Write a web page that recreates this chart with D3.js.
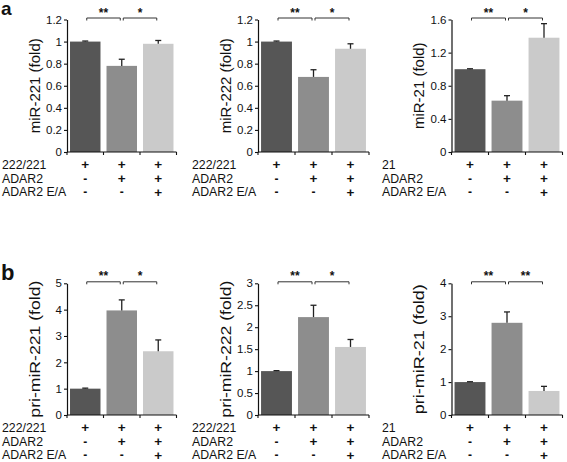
<!DOCTYPE html>
<html><head><meta charset="utf-8">
<script src="https://cdn.jsdelivr.net/npm/d3@7"></script>
<style>body{margin:0;background:#fff}svg{display:block;font-family:"Liberation Sans",Arial,sans-serif}</style>
</head><body><svg id="c" width="567" height="462"></svg>
<script>
// ---- data ----
const conditions = ["c1", "c2", "c3"];
const rowNames = ["ADAR2", "ADAR2 E/A"];
const signsRow1 = ["+", "+", "+"];
const signsRow2 = ["-", "+", "+"];
const signsRow3 = ["-", "-", "+"];

const a1Label = "miR-221 (fold)", a1Values = [1.0, 0.78, 0.98], a1Errors = [0.005, 0.06, 0.03];
const a2Label = "miR-222 (fold)", a2Values = [1.0, 0.68, 0.935], a2Errors = [0.005, 0.065, 0.045];
const a3Label = "miR-21 (fold)", a3Values = [1.0, 0.62, 1.38], a3Errors = [0.005, 0.06, 0.17];
const b1Label = "pri-miR-221 (fold)", b1Values = [1.0, 3.97, 2.42], b1Errors = [0.02, 0.4, 0.43];
const b2Label = "pri-miR-222 (fold)", b2Values = [1.0, 2.23, 1.55], b2Errors = [0.01, 0.27, 0.17];
const b3Label = "pri-miR-21 (fold)", b3Values = [1.0, 2.8, 0.73], b3Errors = [0.01, 0.33, 0.14];

const ticksA12 = [0, 0.2, 0.4, 0.6, 0.8, 1, 1.2];
const ticksA3 = [0, 0.4, 0.8, 1.2, 1.6];
const ticksB1 = [0, 1, 2, 3, 4, 5];
const ticksB2 = [0, 0.5, 1, 1.5, 2, 2.5, 3];
const ticksB3 = [0, 1, 2, 3, 4];

const firstRow221 = "222/221", firstRow21 = "21";
const starsA = ["**", "*"], starsB12 = ["**", "*"], starsB3 = ["**", "**"];

const barColors = ["#565656", "#8d8d8d", "#cacaca"];

// ---- layout ----
const svg = d3.select("#c");
const colX = [67, 258, 451.5], colW = [109.5, 111, 111], rowLabelX = [2, 192, 382];
const rowsY = [{top: 19.5, bottom: 152}, {top: 283.3, bottom: 415}];

const panels = [
  {col:0,row:0,label:a1Label,values:a1Values,errors:a1Errors,ticks:ticksA12,first:firstRow221,stars:starsA},
  {col:1,row:0,label:a2Label,values:a2Values,errors:a2Errors,ticks:ticksA12,first:firstRow221,stars:starsA},
  {col:2,row:0,label:a3Label,values:a3Values,errors:a3Errors,ticks:ticksA3,first:firstRow21,stars:starsA},
  {col:0,row:1,label:b1Label,values:b1Values,errors:b1Errors,ticks:ticksB1,first:firstRow221,stars:starsB12},
  {col:1,row:1,label:b2Label,values:b2Values,errors:b2Errors,ticks:ticksB2,first:firstRow221,stars:starsB12},
  {col:2,row:1,label:b3Label,values:b3Values,errors:b3Errors,ticks:ticksB3,first:firstRow21,stars:starsB3},
];

const ink = "#111";

panels.forEach(p => {
  const x0 = colX[p.col], w = colW[p.col], R = rowsY[p.row];
  const x = d3.scaleBand().domain(conditions).range([x0, x0 + w]).paddingInner(0.165).paddingOuter(0.0825);
  const ymax = p.ticks[p.ticks.length - 1];
  const y = d3.scaleLinear().domain([0, ymax]).range([R.bottom, R.top]);
  const g = svg.append("g");

  // bars
  g.selectAll("rect.bar").data(p.values).join("rect")
    .attr("x", (d, i) => x(conditions[i])).attr("width", x.bandwidth())
    .attr("y", d => y(d)).attr("height", d => y(0) - y(d))
    .attr("fill", (d, i) => barColors[i]);

  // error bars
  p.values.forEach((v, i) => {
    const cx = x(conditions[i]) + x.bandwidth() / 2;
    g.append("line").attr("x1", cx).attr("x2", cx).attr("y1", y(v)).attr("y2", y(v + p.errors[i]))
      .attr("stroke", "#222").attr("stroke-width", 1.3);
    g.append("line").attr("x1", cx - 3).attr("x2", cx + 3).attr("y1", y(v + p.errors[i])).attr("y2", y(v + p.errors[i]))
      .attr("stroke", "#222").attr("stroke-width", 1.3);
  });

  // y axis
  const yAxis = d3.axisLeft(y).tickValues(p.ticks).tickSize(3).tickSizeOuter(0).tickFormat(d3.format("~g"));
  const ya = g.append("g").attr("transform", `translate(${x0},0)`).call(yAxis);
  ya.select(".domain").attr("stroke", ink).attr("stroke-width", 1.2);
  ya.selectAll(".tick line").attr("stroke", ink).attr("stroke-width", 1.1);
  ya.selectAll(".tick text").attr("font-size", 11.5).attr("fill", ink).attr("x", -5)
    .attr("font-family", "Liberation Sans, Arial, sans-serif");

  // x axis with boundary ticks
  const xa = g.append("g");
  xa.append("line").attr("x1", x0).attr("x2", x0 + w).attr("y1", y(0)).attr("y2", y(0))
    .attr("stroke", ink).attr("stroke-width", 1.2);
  const step = x.step();
  for (let i = 0; i <= conditions.length; i++) {
    const tx = (i === 0 ? x0 : x(conditions[i - 1]) + x.bandwidth() + (step - x.bandwidth()) / 2);
    xa.append("line").attr("x1", tx).attr("x2", tx).attr("y1", y(0)).attr("y2", y(0) + 3)
      .attr("stroke", ink).attr("stroke-width", 1.1);
  }

  // y label
  const lx = x0 - 33, ly = (R.top + R.bottom) / 2;
  const t = g.append("text").attr("transform", `translate(${lx},${ly}) rotate(-90)`)
    .attr("text-anchor", "middle").attr("dominant-baseline", "central")
    .attr("font-size", 15).attr("fill", ink).text(p.label);
  if (p.row === 1) t.attr("textLength", p.label.length > 17 ? 137 : 130).attr("lengthAdjust", "spacingAndGlyphs");

  // significance brackets
  const by = R.top - 1.5;
  [[0, 1], [1, 2]].forEach((pair, k) => {
    const xa1 = x(conditions[pair[0]]) + x.bandwidth() / 2 + 1.5;
    const xa2 = x(conditions[pair[1]]) + x.bandwidth() / 2 - 1.5;
    g.append("path").attr("d", `M${xa1},${by + 2.5}V${by}H${xa2}V${by + 2.5}`)
      .attr("fill", "none").attr("stroke", "#333").attr("stroke-width", 1);
    g.append("text").attr("x", (xa1 + xa2) / 2).attr("y", by - 1.5).attr("text-anchor", "middle")
      .attr("font-size", 12).attr("font-weight", "bold").attr("fill", ink).text(p.stars[k]);
  });

  // condition rows
  const rows = [[p.first, signsRow1], [rowNames[0], signsRow2], [rowNames[1], signsRow3]];
  const offs = [12.5, 26.5, 40];
  rows.forEach((r, ri) => {
    const yy = y(0) + offs[ri];
    g.append("text").attr("x", rowLabelX[p.col]).attr("y", yy).attr("dominant-baseline", "central")
      .attr("font-size", 12.3).attr("fill", ink).text(r[0]);
    r[1].forEach((s, i) => {
      g.append("text").attr("x", x(conditions[i]) + x.bandwidth() / 2).attr("y", yy)
        .attr("dominant-baseline", "central").attr("text-anchor", "middle")
        .attr("font-size", s === "+" ? 13.5 : 12).attr("font-weight", "bold").attr("fill", ink).text(s);
    });
  });
});

// panel letters
svg.append("text").attr("x", 1).attr("y", 14.5).attr("font-size", 19).attr("font-weight", "bold").attr("fill", ink).text("a");
svg.append("text").attr("x", 1).attr("y", 280).attr("font-size", 22).attr("font-weight", "bold").attr("fill", ink).text("b");
</script></body></html>
